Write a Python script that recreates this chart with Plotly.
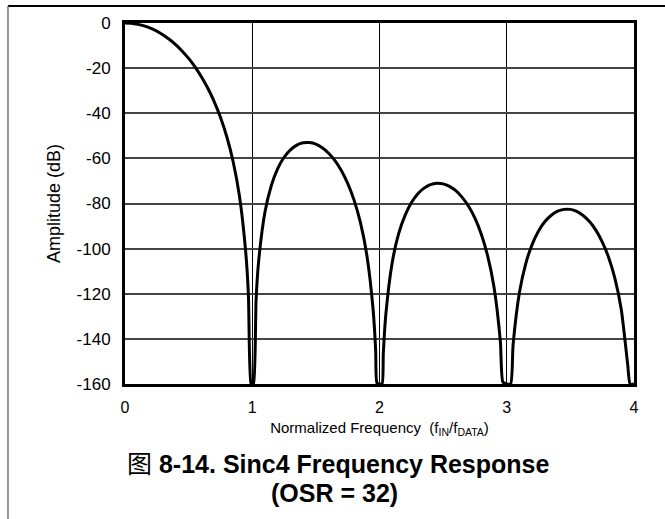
import plotly.graph_objects as go

# normalized frequency (f_IN / f_DATA) and amplitude in dB
freq = [0, 0.05, 0.1, 0.15, 0.2, 0.25, 0.3, 0.35, 0.4, 0.45, 0.5, 0.55, 0.6, 0.65, 0.7, 0.75, 0.8, 0.85, 0.9, 0.95, 0.97, 0.99,
        1.0, 1.01, 1.03, 1.05, 1.1, 1.15, 1.2, 1.25, 1.3, 1.35, 1.4, 1.45, 1.5, 1.55, 1.6, 1.65, 1.7, 1.75, 1.8, 1.85, 1.9, 1.95, 1.97, 1.98,
        2.0, 2.02, 2.03, 2.05, 2.1, 2.15, 2.2, 2.25, 2.3, 2.35, 2.4, 2.45, 2.5, 2.55, 2.6, 2.65, 2.7, 2.75, 2.8, 2.85, 2.9, 2.95, 2.97,
        3.0, 3.03, 3.05, 3.1, 3.15, 3.2, 3.25, 3.3, 3.35, 3.4, 3.45, 3.5, 3.55, 3.6, 3.65, 3.7, 3.75, 3.8, 3.85, 3.9, 3.95, 3.97, 4.0]
amplitude_db = [0, -0.1, -0.6, -1.3, -2.3, -3.6, -5.3, -7.3, -9.7, -12.5, -15.7, -19.4, -23.8, -28.8, -34.7, -41.8, -50.4, -61.5, -76.9, -102.4, -120.8, -159.7,
                -160, -160, -122.8, -105.8, -83.8, -72.0, -64.5, -59.5, -56.2, -54.1, -53.1, -53.0, -53.7, -55.3, -57.7, -61.0, -65.4, -71.1, -78.5, -88.4, -102.7, -127.2, -145.2, -159.5,
                -160, -160, -146.3, -129.0, -106.1, -93.5, -85.4, -79.7, -75.8, -73.2, -71.6, -71.0, -71.3, -72.4, -74.3, -77.3, -81.2, -86.5, -93.6, -103.2, -117.1, -141.3, -159.2,
                -160, -160, -142.5, -119.3, -106.5, -98.1, -92.2, -88.0, -85.2, -83.4, -82.6, -82.6, -83.5, -85.3, -88.0, -91.8, -97.0, -103.8, -113.2, -127.0, -151.1, -160, -160]

x_ticks = [0, 1, 2, 3, 4]
y_ticks = [0, -20, -40, -60, -80, -100, -120, -140, -160]
y_tick_labels = ["0", "-20", "-40", "-60", "-80", "-100", "-120", "-140", "-160"]

FONT = "Liberation Sans, Arial, sans-serif"

fig = go.Figure()
fig.add_trace(go.Scatter(x=freq, y=amplitude_db, mode="lines",
                         line=dict(color="black", width=3, shape="spline", smoothing=0.6),
                         showlegend=False, hoverinfo="x+y"))

fig.update_layout(
    width=665, height=519,
    margin=dict(l=125, r=31, t=23, b=135),
    paper_bgcolor="white", plot_bgcolor="white",
    font=dict(family=FONT, size=15, color="black"),
    xaxis=dict(range=[0, 4], tickvals=x_ticks, ticks="", showgrid=True, gridcolor="black", gridwidth=1,
               showline=True, linecolor="black", linewidth=3, mirror=True, zeroline=False, automargin=False,
               ticklabelstandoff=7, tickfont=dict(size=16),
               title=dict(text="Normalized Frequency  (f<sub>IN</sub>/f<sub>DATA</sub>)", font=dict(size=15), standoff=8)),
    yaxis=dict(range=[-160, 0], tickvals=y_ticks, ticktext=y_tick_labels, ticks="", showgrid=True,
               gridcolor="#444444", gridwidth=1.5,
               showline=True, linecolor="black", linewidth=3, mirror=True, zeroline=False, automargin=False,
               ticklabelstandoff=8, tickfont=dict(size=17),
               title=dict(text="Amplitude (dB)", font=dict(size=18), standoff=12)),
    shapes=[
        dict(type="line", xref="paper", yref="paper", x0=-0.2299, x1=1.2, y0=1.0471, y1=1.0471,
             line=dict(color="black", width=2)),
        dict(type="line", xref="paper", yref="paper", x0=-0.2299, x1=-0.2299, y0=1.0471, y1=-0.45,
             line=dict(color="#777777", width=1.5)),
    ],
    annotations=[
        dict(xref="paper", yref="paper", x=0.4175, y=-0.2161, xanchor="center", yanchor="middle", showarrow=False,
             text="<span style='font-family:Noto Sans CJK SC;font-weight:normal'>图</span> <b>8-14. Sinc4 Frequency Response</b>",
             font=dict(size=25)),
        dict(xref="paper", yref="paper", x=0.4115, y=-0.3019, xanchor="center", yanchor="middle", showarrow=False,
             text="<b>(OSR = 32)</b>", font=dict(size=25)),
    ],
)

fig.write_html("out.html", config={"displayModeBar": False},
               post_script="document.body.style.margin='0';")
